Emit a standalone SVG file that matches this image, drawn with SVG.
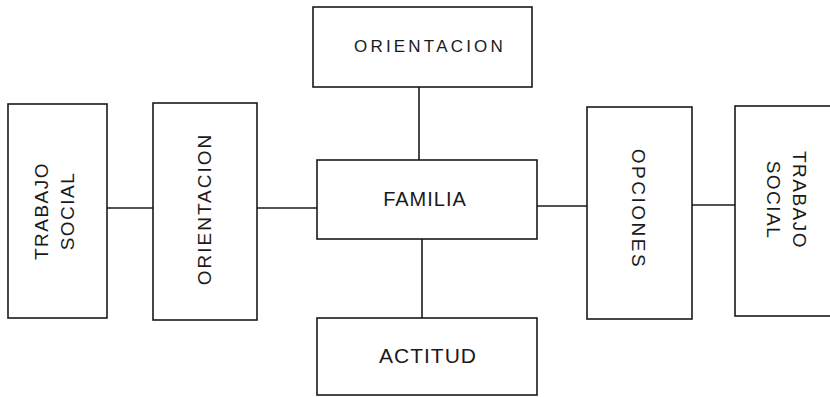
<svg xmlns="http://www.w3.org/2000/svg" width="830" height="397" viewBox="0 0 830 397">
<style>
.box{fill:#fff;stroke:#1a1a1a;stroke-width:1.6}
.ln{stroke:#1a1a1a;stroke-width:1.6;fill:none}
.t{font-family:"Liberation Sans",Arial,sans-serif;fill:#1a1a1a;text-anchor:middle;dominant-baseline:central}
</style>
<rect width="830" height="397" fill="#fff"/>
<g id="connectors">
<line class="ln" x1="107" y1="208" x2="153" y2="208"/>
<line class="ln" x1="257" y1="208" x2="317" y2="208"/>
<line class="ln" x1="419" y1="87" x2="419" y2="160"/>
<line class="ln" x1="422" y1="239" x2="422" y2="318"/>
<line class="ln" x1="537" y1="206" x2="587" y2="206"/>
<line class="ln" x1="692" y1="205" x2="735" y2="205"/>
</g>
<g id="trabajo-social-left">
<rect class="box" x="8" y="104" width="99" height="214"/>
<text class="t" font-size="19" letter-spacing="1.5" transform="translate(41,211) rotate(-90)">TRABAJO</text>
<text class="t" font-size="19" letter-spacing="1.5" transform="translate(67,211) rotate(-90)">SOCIAL</text>
</g>
<g id="orientacion-left">
<rect class="box" x="153" y="103" width="104" height="217"/>
<text class="t" font-size="19" letter-spacing="2" transform="translate(204,209) rotate(-90)">ORIENTACION</text>
</g>
<g id="orientacion-top">
<rect class="box" x="313" y="7" width="219" height="80"/>
<text class="t" x="430" y="46.5" font-size="17" letter-spacing="3.2">ORIENTACION</text>
</g>
<g id="familia">
<rect class="box" x="317" y="160" width="220" height="79"/>
<text class="t" x="425" y="199" font-size="20" letter-spacing="1">FAMILIA</text>
</g>
<g id="actitud">
<rect class="box" x="317" y="318" width="220" height="77"/>
<text class="t" x="428" y="355" font-size="21" letter-spacing="1">ACTITUD</text>
</g>
<g id="opciones">
<rect class="box" x="587" y="107" width="105" height="212"/>
<text class="t" font-size="19" letter-spacing="2.5" transform="translate(638,209) rotate(90)">OPCIONES</text>
</g>
<g id="trabajo-social-right">
<rect class="box" x="735" y="106" width="110" height="210"/>
<text class="t" font-size="19" letter-spacing="1.5" transform="translate(799,200) rotate(90)">TRABAJO</text>
<text class="t" font-size="19" letter-spacing="1.5" transform="translate(773,200) rotate(90)">SOCIAL</text>
</g>
</svg>
